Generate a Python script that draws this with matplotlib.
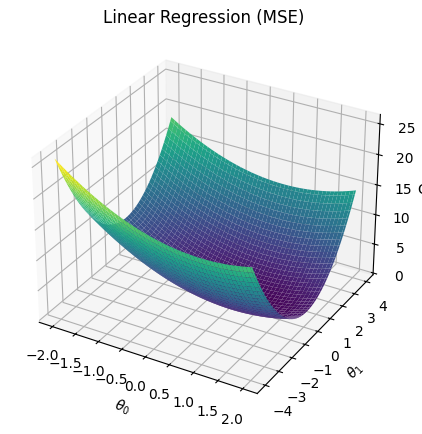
import numpy as np
import matplotlib
matplotlib.use("Agg")
import matplotlib.pyplot as plt

# small training set (x, y) used for the cost surface
x_data = np.array([-1.45, -1.05, -0.7, -0.4, -0.1, 0.2, 0.5, 0.8, 1.15, 1.69])
y_data = np.array([0.65, -0.12, 1.10, 0.29, -0.01, 1.29, 0.29, 1.29, 1.60, 1.08])

# parameter ranges
theta0_vals = np.linspace(-2, 2, 100)
theta1_vals = np.linspace(-4, 4, 100)

# tick positions
theta0_ticks = [-2.0, -1.5, -1.0, -0.5, 0.0, 0.5, 1.0, 1.5, 2.0]
theta1_ticks = [-4, -3, -2, -1, 0, 1, 2, 3, 4]

T0, T1 = np.meshgrid(theta0_vals, theta1_vals)

# mean squared error for every (theta0, theta1)
pred = T0[..., None] + T1[..., None] * x_data
cost = np.mean((pred - y_data) ** 2, axis=-1)

W, H = 422, 435
side = 388  # square 3d box, in pixels
fig = plt.figure(figsize=(W / 100, H / 100), dpi=100)
ax = fig.add_axes([10 / W, (H - 31 - side) / H, side / W, side / H], projection="3d")
ax.plot_surface(T0, T1, cost, cmap="viridis")
ax.set_xticks(theta0_ticks)
ax.set_yticks(theta1_ticks)
ax.set_xlabel(r"$\theta_0$")
ax.set_ylabel(r"$\theta_1$")
ax.set_zlabel("Cost")
ax.set_title("Linear Regression (MSE)")

plt.savefig("out.png", dpi=100)
